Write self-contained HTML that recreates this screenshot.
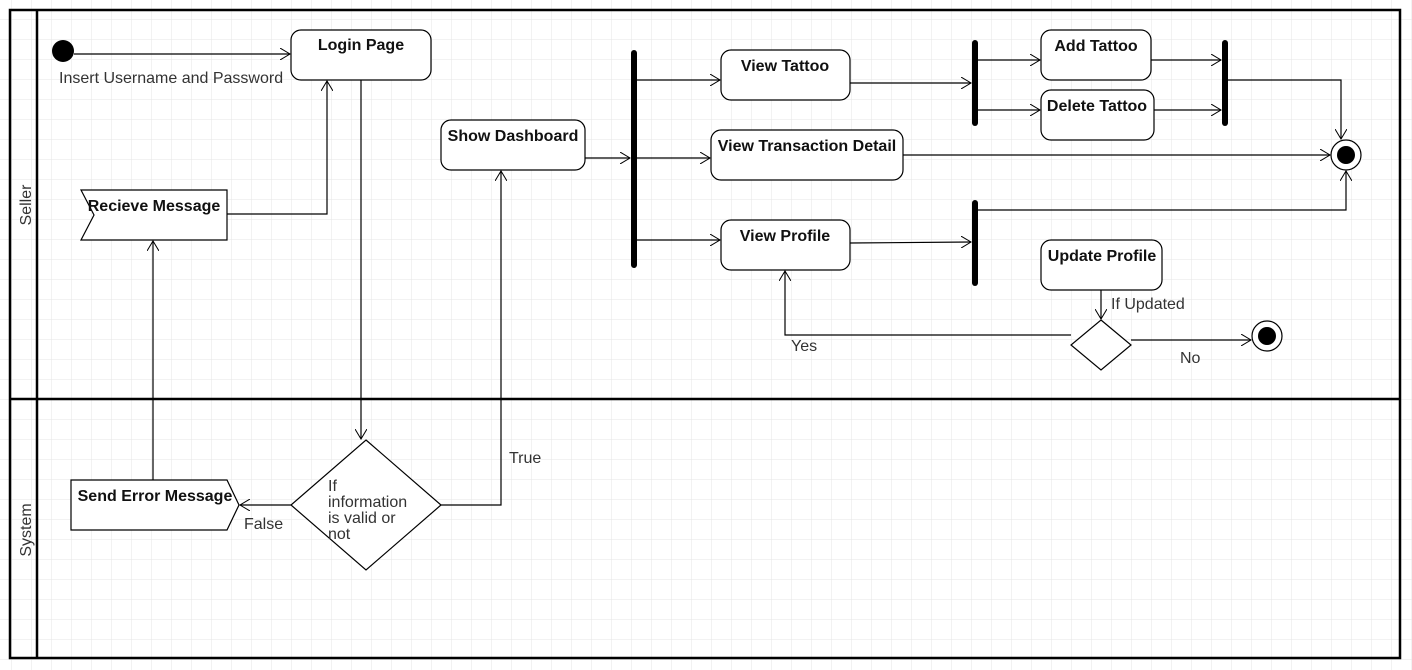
<!DOCTYPE html>
<html><head><meta charset="utf-8"><style>
html,body{margin:0;padding:0;background:#fff;}
svg{display:block;font-family:"Liberation Sans",sans-serif;}
.b{font-weight:bold;font-size:16px;fill:#111;}
.t{font-size:16px;fill:#333;}
</style></head><body>
<svg width="1412" height="670" viewBox="0 0 1412 670" xmlns="http://www.w3.org/2000/svg">
<defs>
<pattern id="g" width="20" height="20" patternUnits="userSpaceOnUse" x="12" y="0">
<path d="M20 0V20M0 20H20" fill="none" stroke="#e6e6e6" stroke-width="1"/>
</pattern>
<marker id="a" markerWidth="12" markerHeight="12" refX="10" refY="6" orient="auto" markerUnits="userSpaceOnUse">
<path d="M0 0L10 6L0 12" fill="none" stroke="#000" stroke-width="1"/>
</marker>
</defs>
<rect width="1412" height="670" fill="url(#g)"/>
<g fill="none" stroke="#000">
<rect x="10" y="10" width="1390" height="648" stroke-width="2.5"/>
<line x1="37" y1="10" x2="37" y2="658" stroke-width="2.5"/>
<line x1="10" y1="399" x2="1400" y2="399" stroke-width="2.5"/>
</g>
<text class="t" transform="translate(31,205) rotate(-90)" text-anchor="middle">Seller</text>
<text class="t" transform="translate(31,530) rotate(-90)" text-anchor="middle">System</text>

<g stroke="#000" stroke-width="1.2" fill="#fff">
<rect x="291" y="30" width="140" height="50" rx="10"/>
<polygon points="81,190 227,190 227,240 81,240 94,215"/>
<polygon points="366,440 441,505 366,570 291,505"/>
<polygon points="71,480 227,480 239,505 227,530 71,530"/>
<rect x="441" y="120" width="144" height="50" rx="10"/>
<rect x="721" y="50" width="129" height="50" rx="10"/>
<rect x="711" y="130" width="192" height="50" rx="10"/>
<rect x="721" y="220" width="129" height="50" rx="10"/>
<rect x="1041" y="30" width="110" height="50" rx="10"/>
<rect x="1041" y="90" width="113" height="50" rx="10"/>
<rect x="1041" y="240" width="121" height="50" rx="10"/>
<polygon points="1101,320 1131,345 1101,370 1071,345"/>
<circle cx="1346" cy="155" r="15"/>
<circle cx="1267" cy="336" r="15"/>
</g>
<circle cx="63" cy="51" r="11" fill="#000"/>
<circle cx="1346" cy="155" r="9" fill="#000"/>
<circle cx="1267" cy="336" r="9" fill="#000"/>
<g fill="#000">
<rect x="631" y="50" width="6" height="218" rx="3"/>
<rect x="972" y="40" width="6" height="86" rx="3"/>
<rect x="1222" y="40" width="6" height="86" rx="3"/>
<rect x="972" y="200" width="6" height="86" rx="3"/>
</g>

<g fill="none" stroke="#000" stroke-width="1.2" marker-end="url(#a)">
<path d="M74 54H290"/>
<path d="M227 214H327V81"/>
<path d="M361 80V439"/>
<path d="M441 505H501V171"/>
<path d="M291 505H240"/>
<path d="M153 480V241"/>
<path d="M585 158H630"/>
<path d="M637 80H720"/>
<path d="M637 158H710"/>
<path d="M637 240H720"/>
<path d="M850 83H971"/>
<path d="M978 60H1040"/>
<path d="M978 110H1040"/>
<path d="M1151 60H1221"/>
<path d="M1154 110H1221"/>
<path d="M1228 80H1341V139"/>
<path d="M903 155H1330"/>
<path d="M850 243L971 242"/>
<path d="M978 210H1346V171"/>
<path d="M1101 290V319"/>
<path d="M1071 335H785V271"/>
<path d="M1131 340H1251"/>
</g>

<text class="b" x="361" y="50" text-anchor="middle">Login Page</text>
<text class="b" x="154" y="211" text-anchor="middle">Recieve Message</text>
<text class="b" x="155" y="501" text-anchor="middle">Send Error Message</text>
<text class="b" x="513" y="141" text-anchor="middle">Show Dashboard</text>
<text class="b" x="785" y="71" text-anchor="middle">View Tattoo</text>
<text class="b" x="807" y="151" text-anchor="middle">View Transaction Detail</text>
<text class="b" x="785" y="241" text-anchor="middle">View Profile</text>
<text class="b" x="1096" y="51" text-anchor="middle">Add Tattoo</text>
<text class="b" x="1097" y="111" text-anchor="middle">Delete Tattoo</text>
<text class="b" x="1102" y="261" text-anchor="middle">Update Profile</text>
<text class="t" x="59" y="83">Insert Username and Password</text>
<text class="t" x="328" y="491">If</text>
<text class="t" x="328" y="507">information</text>
<text class="t" x="328" y="523">is valid or</text>
<text class="t" x="328" y="539">not</text>
<text class="t" x="509" y="463">True</text>
<text class="t" x="244" y="529">False</text>
<text class="t" x="1111" y="309">If Updated</text>
<text class="t" x="791" y="351">Yes</text>
<text class="t" x="1180" y="363">No</text>
</svg>
</body></html>
